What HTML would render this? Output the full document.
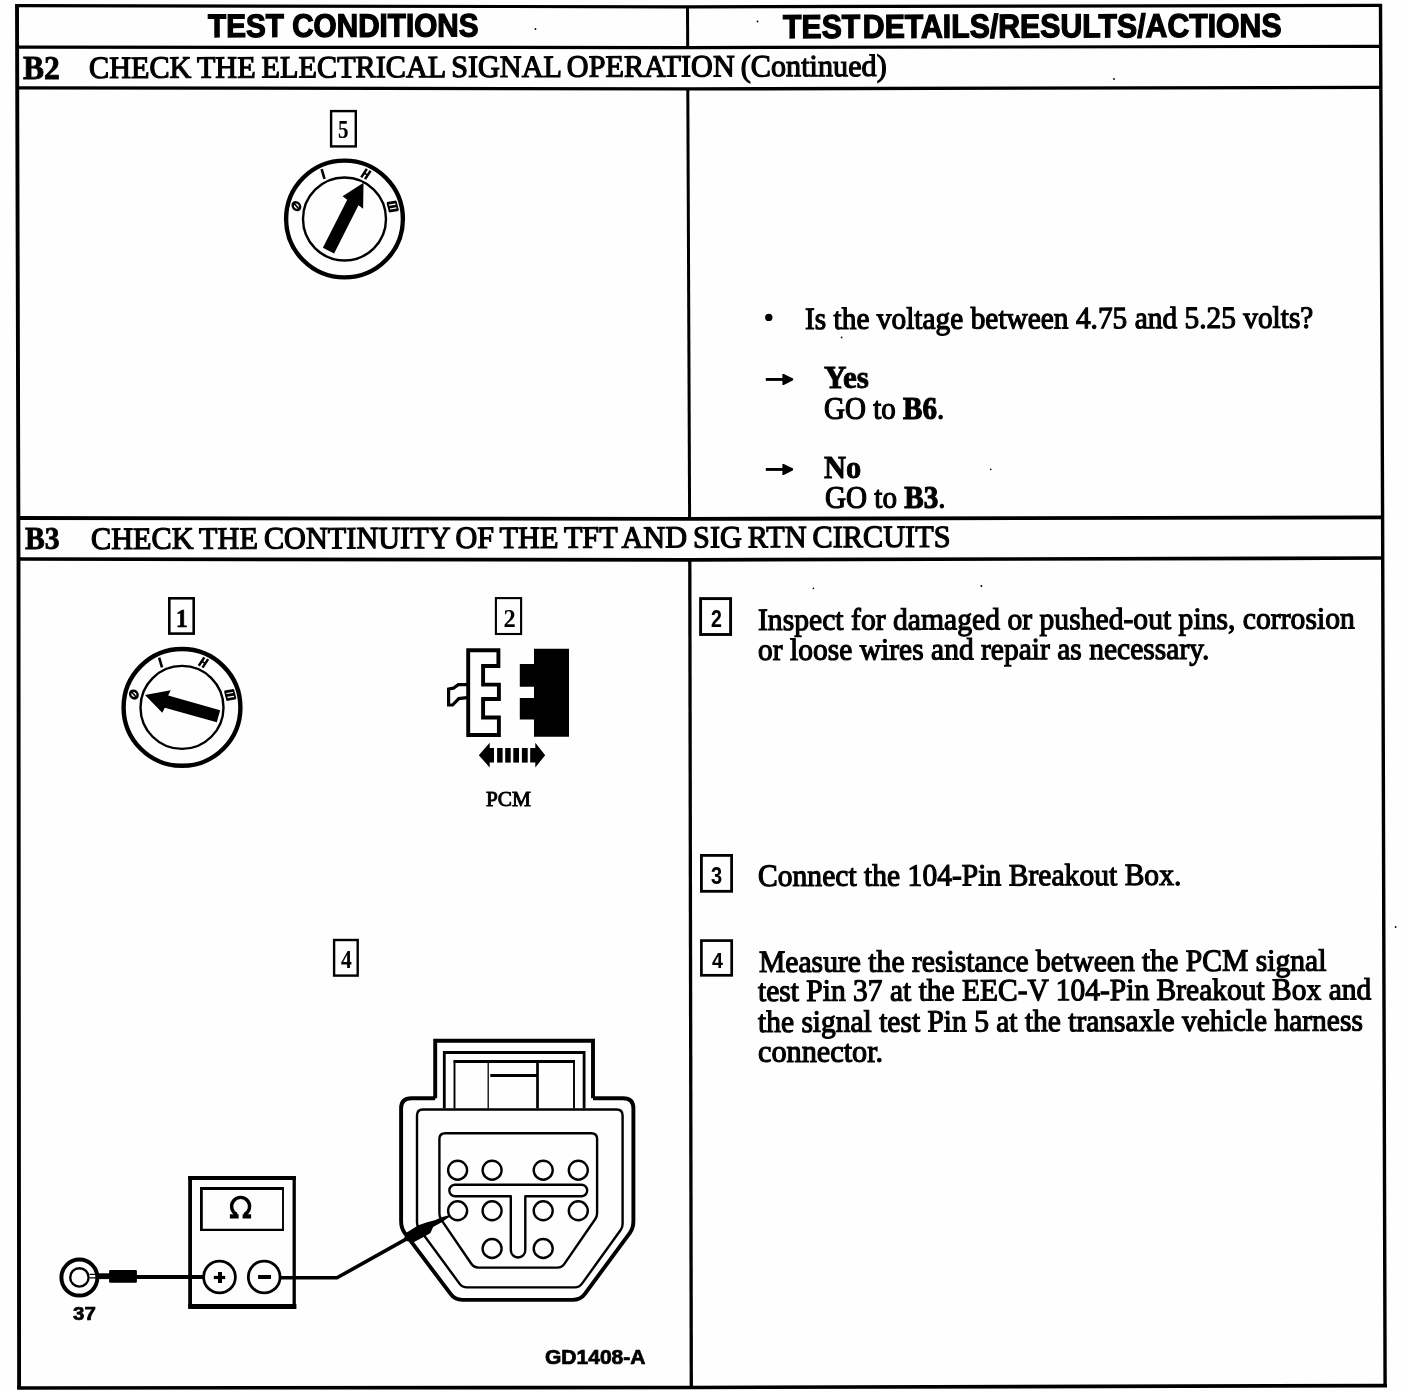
<!DOCTYPE html>
<html><head><meta charset="utf-8"><title>B2/B3 pinpoint test</title>
<style>
html,body{margin:0;padding:0;background:#fff;}
#page{position:relative;width:1408px;height:1392px;overflow:hidden;background:#fefefe;color:#000;}
#page svg{position:absolute;left:0;top:0;}
.t{position:absolute;white-space:pre;line-height:1;transform-origin:0 84%;color:#000;}
#txt{position:absolute;left:0;top:0;width:1408px;height:1392px;transform:translateZ(0);will-change:transform;}
</style></head><body>
<div id="page">
<svg width="1408" height="1392" viewBox="0 0 1408 1392" fill="none" stroke="#000" stroke-linecap="butt" stroke-linejoin="miter">
<polyline points="17.0,4.0 18.5,560.0 19.1,1389.0" stroke-width="3.9"/>
<polyline points="1380.5,4.0 1382.6,520.0 1385.1,1387.0" stroke-width="3.4"/>
<polyline points="687.5,6.0 687.7,47.5" stroke-width="3.0"/>
<polyline points="687.8,89.0 689.6,518.0" stroke-width="3.0"/>
<polyline points="689.8,560.0 691.3,1388.0" stroke-width="3.3"/>
<polyline points="15.1,5.6 688.0,6.8 1382.0,5.4" stroke-width="3.2"/>
<polyline points="17.0,47.1 688.0,47.6 1381.0,46.3" stroke-width="3.2"/>
<polyline points="17.0,87.8 688.0,88.9 1381.0,87.4" stroke-width="3.3"/>
<polyline points="17.0,518.0 689.0,518.9 1383.0,517.3" stroke-width="3.8"/>
<polyline points="17.0,559.0 690.0,559.9 1383.0,558.0" stroke-width="3.7"/>
<polyline points="17.2,1388.0 691.0,1387.5 1387.0,1385.6" stroke-width="3.6"/>
<rect x="331.1" y="111.1" width="24.7" height="35.3" stroke-width="2.4"/>
<rect x="169.3" y="598.3" width="24.4" height="35.3" stroke-width="2.6"/>
<rect x="495.9" y="598.1" width="25.2" height="35.9" stroke-width="2.1"/>
<rect x="334.1" y="940.0" width="23.6" height="35.6" stroke-width="2.4"/>
<rect x="700.6" y="598.6" width="30.0" height="35.9" stroke-width="2.9"/>
<rect x="701.4" y="855.4" width="30.2" height="35.9" stroke-width="2.8"/>
<rect x="701.4" y="940.6" width="30.3" height="34.7" stroke-width="2.7"/>
<g transform="translate(344.5,219)">
<circle r="58.4" stroke-width="4.4"/>
<circle r="41.5" stroke-width="2.4"/>
<g transform="rotate(26.8) translate(0.0,0.0)"><polygon fill="#000" stroke="none" points="-6.3,35.5 6.3,35.5 6.3,-18.5 12,-17.5 0.6,-41 -12,-19.5 -6.3,-18.5"/></g>
<g transform="rotate(-75) translate(0,-49.8)" stroke-width="1.7"><ellipse rx="3.6" ry="3.9" transform="skewX(-8)" stroke-width="2.5"/><path d="M-2,3 L2,-3" stroke-width="1.6"/></g>
<g transform="rotate(-25.5) translate(0,-49.8)" stroke-width="1.7"><path d="M0.8,-5 L-0.8,5" stroke-width="2.6"/></g>
<g transform="rotate(25.5) translate(0,-49.8)" stroke-width="1.7"><path d="M-1.4,-5 L-2.8,5 M2.8,-5 L1.4,5" stroke-width="2.5"/><path d="M-2.6,0 L2.6,0" stroke-width="1.6"/></g>
<g transform="rotate(75.5) translate(0,-49.8)" stroke-width="1.7"><path d="M-3.6,-4.6 L-4.4,4.6 M0.4,-4.6 L-0.4,4.6 M4.4,-4.6 L3.6,4.6" stroke-width="2.7"/><path d="M-4.5,-4.2 L4.8,-4.2 M-4.8,4.2 L4.5,4.2" stroke-width="1.8"/></g>
</g>
<g transform="translate(182,707.4)">
<circle r="58.4" stroke-width="4.4"/>
<circle r="41.5" stroke-width="2.4"/>
<g transform="rotate(-74.3) translate(1.4,2.0)"><polygon fill="#000" stroke="none" points="-6.3,35.5 6.3,35.5 6.3,-18.5 12,-17.5 0.6,-41 -12,-19.5 -6.3,-18.5"/></g>
<g transform="rotate(-75) translate(0,-49.8)" stroke-width="1.7"><ellipse rx="3.6" ry="3.9" transform="skewX(-8)" stroke-width="2.5"/><path d="M-2,3 L2,-3" stroke-width="1.6"/></g>
<g transform="rotate(-25.5) translate(0,-49.8)" stroke-width="1.7"><path d="M0.8,-5 L-0.8,5" stroke-width="2.6"/></g>
<g transform="rotate(25.5) translate(0,-49.8)" stroke-width="1.7"><path d="M-1.4,-5 L-2.8,5 M2.8,-5 L1.4,5" stroke-width="2.5"/><path d="M-2.6,0 L2.6,0" stroke-width="1.6"/></g>
<g transform="rotate(75.5) translate(0,-49.8)" stroke-width="1.7"><path d="M-3.6,-4.6 L-4.4,4.6 M0.4,-4.6 L-0.4,4.6 M4.4,-4.6 L3.6,4.6" stroke-width="2.7"/><path d="M-4.5,-4.2 L4.8,-4.2 M-4.8,4.2 L4.5,4.2" stroke-width="1.8"/></g>
</g>
<polygon points="468.2,650.3 498.4,650.3 498.4,666.0 483.1,666.0 483.1,684.6 498.9,684.6 498.9,699.0 483.1,699.0 483.1,717.5 498.9,717.5 498.9,735.0 468.2,735.0" stroke-width="3.9"/>
<path d="M467,684.6 L458.3,684.6 L453.4,688.2 L448.6,689.0 L448.6,705.0 L452.6,705.0 L458.8,698.6 L467,697.6" stroke-width="3.2"/>
<path fill="#000" stroke="none" d="M534,648.8 H569 V736.7 H534 V719.5 H519.8 V697.9 H534 V686.7 H519.8 V664 H534 Z"/>
<path fill="#000" stroke="none" d="M478.8,755.3 L489.7,742.8 L489.7,748 L494,748 L494,762.6 L489.7,762.6 L489.7,767.4 Z"/>
<rect fill="#000" stroke="none" x="497.1" y="748" width="5.5" height="14.6"/>
<rect fill="#000" stroke="none" x="505.2" y="748" width="5.5" height="14.6"/>
<rect fill="#000" stroke="none" x="513.3" y="748" width="5.7" height="14.6"/>
<rect fill="#000" stroke="none" x="521.9" y="748" width="5.8" height="14.6"/>
<path fill="#000" stroke="none" d="M545.2,755.3 L535.3,742.8 L535.3,748 L530.2,748 L530.2,762.6 L535.3,762.6 L535.3,767.4 Z"/>
<path d="M190.1,1176.1 V1308" stroke-width="3.8"/><path d="M188.2,1178.1 H295.9" stroke-width="4.0"/><path d="M294.2,1176.1 V1308" stroke-width="3.3"/>
<path d="M188.3,1306.5 H296.4" stroke-width="5.0"/>
<path d="M201.4,1188.4 H283.0" stroke-width="3.0"/><path d="M201.4,1187 V1231" stroke-width="2.8"/><path d="M283.0,1187 V1231" stroke-width="1.9"/><path d="M200,1229.9 H284" stroke-width="2.1"/>
<path d="M236.9,1214.6 A9.0,9.0 0 1 1 244.3,1214.6" stroke-width="3.4"/><path d="M229.9,1216.4 H238.6 M242.6,1216.4 H251.1" stroke-width="4.4"/>
<circle cx="219.5" cy="1277.0" r="15.9" stroke-width="2.8"/>
<circle cx="264.2" cy="1277.0" r="15.9" stroke-width="2.8"/>
<path d="M213.8,1277.5 H225.2" stroke-width="3.2"/><path d="M220,1272 V1283" stroke-width="4.0"/>
<path d="M258.1,1277 H271" stroke-width="4.0"/>
<circle cx="79.4" cy="1277.6" r="18.0" stroke-width="4.0"/>
<circle cx="79.4" cy="1277.4" r="9.2" stroke-width="2.4"/>
<path d="M89.5,1274.4 H99 M89.5,1277.9 H99" stroke-width="1.3"/>
<rect fill="#000" stroke="none" x="98.5" y="1273.3" width="11.5" height="5.8"/>
<rect fill="#000" stroke="none" x="109.1" y="1269.9" width="27.8" height="12.8" rx="1"/>
<path d="M136,1277.0 H203.8" stroke-width="4.0"/>
<path d="M279.9,1277.8 H337 L407,1238.6" stroke-width="3.6" stroke-linejoin="round"/>
<path fill="#000" stroke="none" d="M404.2,1238.3 L405.9,1233.1 L418.4,1225.3 L427.1,1222.3 L434.8,1220.2 L441.7,1217.2 L448.6,1215.2 L449.6,1216.7 L441.7,1222.3 L433.1,1227.1 L430.5,1233.1 L424.5,1236.6 L414.1,1241.9 L407.2,1241.2 Z"/>
<path d="M435.2,1098.2 V1040.8 H593.0 V1098.2" stroke-width="3.9"/>
<path d="M444.3,1108.4 V1052.5 H584.1 V1108.4" stroke-width="2.8"/>
<path d="M454.5,1108.4 V1061 H574 V1108.4" stroke-width="1.9"/>
<path d="M453.6,1061.6 H574.9" stroke-width="2.8"/>
<path d="M488.2,1061 V1108.4" stroke-width="1.3"/>
<path d="M537.5,1061 V1108.4" stroke-width="2.7"/>
<path d="M490.3,1075.5 H537.5" stroke-width="2.9"/>
<path d="M435.2,1098.2 H411.5 Q401.1,1098.2 401.1,1108.4 V1221 Q401.1,1228 404.6,1232.8 L450.0,1293.2 Q454.6,1299.9 462.5,1299.9 H572.5 Q580.6,1299.9 584.9,1293.9 L629.9,1232.8 Q633.4,1228 633.4,1221 V1108.4 Q633.4,1098.2 623.1,1098.2 H593.0" stroke-width="3.9"/>
<path d="M422.8,1109.5 H616.6 Q622.6,1109.5 622.6,1115.5 V1224 Q622.6,1227.2 620.8,1229.8 L582.2,1283.4 Q579.4,1287.4 574.5,1287.4 H467.2 Q462.3,1287.4 459.5,1283.6 L418.8,1228.2 Q417,1225.8 417,1222.5 V1115.5 Q417,1109.5 422.8,1109.5 Z" stroke-width="2.4"/>
<path d="M445.2,1133.2 H591.3 Q597.1,1133.2 597.1,1139 V1213 Q597.1,1216.4 595.3,1219 L564.2,1264.1 Q561.8,1267.6 557.2,1267.6 H478.5 Q473.9,1267.6 471.5,1264 L441.2,1219.6 Q439.4,1216.9 439.4,1213.5 V1139 Q439.4,1133.2 445.2,1133.2 Z" stroke-width="2.4"/>
<circle cx="457.6" cy="1170.2" r="9.5" stroke-width="2.4"/>
<circle cx="492.1" cy="1170.2" r="9.5" stroke-width="2.4"/>
<circle cx="543.2" cy="1170.2" r="9.5" stroke-width="2.4"/>
<circle cx="578.3" cy="1170.2" r="9.5" stroke-width="2.4"/>
<circle cx="457.6" cy="1210.8" r="9.5" stroke-width="2.4"/>
<circle cx="492.1" cy="1210.8" r="9.5" stroke-width="2.4"/>
<circle cx="543.2" cy="1210.8" r="9.5" stroke-width="2.4"/>
<circle cx="578.3" cy="1210.8" r="9.5" stroke-width="2.4"/>
<circle cx="492.1" cy="1248.5" r="9.5" stroke-width="2.4"/>
<circle cx="543.2" cy="1248.5" r="9.5" stroke-width="2.4"/>
<path d="M455.1,1184.7 H581.4 A5.8,5.8 0 0 1 581.4,1196.3 H525.3 V1250.2 A7.25,7.25 0 0 1 510.8,1250.2 V1196.3 H455.1 A5.8,5.8 0 0 1 455.1,1184.7 Z" stroke-width="2.4" stroke-linejoin="round"/>
<circle cx="768.8" cy="317.4" r="3.7" fill="#000" stroke="none"/>
<circle cx="535.5" cy="29" r="0.9" fill="#000" stroke="none"/><circle cx="757.5" cy="21.5" r="0.9" fill="#000" stroke="none"/><circle cx="1114" cy="79" r="0.9" fill="#000" stroke="none"/><circle cx="841.6" cy="337.4" r="0.9" fill="#000" stroke="none"/><circle cx="990.8" cy="469.4" r="0.8" fill="#000" stroke="none"/><circle cx="813.4" cy="588.4" r="0.8" fill="#000" stroke="none"/><circle cx="981.4" cy="586" r="1.0" fill="#000" stroke="none"/><circle cx="1395.6" cy="927" r="0.9" fill="#000" stroke="none"/>
<path d="M765.8,379.45 H784.8" stroke-width="2.9"/><path fill="#000" stroke="none" d="M793.0999999999999,378.55 L793.0999999999999,380.34999999999997 L786.3,383.65 L783.8,384.95 L782.4,384.95 L782.4,373.95 L783.8,373.95 L786.3,375.25 Z"/>
<path d="M765.8,469.45 H784.8" stroke-width="2.9"/><path fill="#000" stroke="none" d="M793.0999999999999,468.55 L793.0999999999999,470.34999999999997 L786.3,473.65 L783.8,474.95 L782.4,474.95 L782.4,463.95 L783.8,463.95 L786.3,465.25 Z"/>
</svg>
<div id="txt">
<span class="t" style="left:207.7px;top:9.89px;font-family:'Liberation Sans', sans-serif;font-weight:bold;font-size:32.5px;-webkit-text-stroke:1.30px #000;transform:rotate(-0.14deg) scaleX(0.9138);">TEST CONDITIONS</span>
<span class="t" style="left:782.6px;top:10.27px;font-family:'Liberation Sans', sans-serif;font-weight:bold;font-size:33px;-webkit-text-stroke:1.30px #000;transform:rotate(-0.14deg) scaleX(0.9162);">TEST&#8202;DETAILS/RESULTS/ACTIONS</span>
<span class="t" style="left:23.4px;top:50.64px;font-family:'Liberation Serif', serif;font-weight:bold;font-size:33.5px;-webkit-text-stroke:0.85px #000;transform:scaleX(0.9410);">B2</span>
<span class="t" style="left:89.3px;top:52.44px;font-family:'Liberation Serif', serif;font-weight:normal;font-size:31px;-webkit-text-stroke:1.15px #000;word-spacing:-1.6px;transform:rotate(-0.14deg) scaleX(0.9749);">CHECK THE ELECTRICAL SIGNAL OPERATION (Continued)</span>
<span class="t" style="left:25.4px;top:522.30px;font-family:'Liberation Serif', serif;font-weight:bold;font-size:32px;-webkit-text-stroke:0.85px #000;transform:scaleX(0.9265);">B3</span>
<span class="t" style="left:91.0px;top:523.04px;font-family:'Liberation Serif', serif;font-weight:normal;font-size:31px;-webkit-text-stroke:1.15px #000;word-spacing:-1.6px;transform:rotate(-0.14deg) scaleX(0.9765);">CHECK THE CONTINUITY OF THE TFT AND SIG RTN CIRCUITS</span>
<span class="t" style="left:805.0px;top:302.54px;font-family:'Liberation Serif', serif;font-weight:normal;font-size:31px;-webkit-text-stroke:1.15px #000;transform:rotate(-0.14deg) scaleX(0.9479);">Is the voltage between 4.75 and 5.25 volts?</span>
<span class="t" style="left:824.2px;top:362.12px;font-family:'Liberation Serif', serif;font-weight:bold;font-size:31.5px;-webkit-text-stroke:0.85px #000;transform:scaleX(0.9868);">Yes</span>
<span class="t" style="left:824.0px;top:392.64px;font-family:'Liberation Serif', serif;font-weight:normal;font-size:31px;-webkit-text-stroke:1.15px #000;transform:scaleX(0.9367);">GO to <b>B6</b>.</span>
<span class="t" style="left:824.2px;top:452.12px;font-family:'Liberation Serif', serif;font-weight:bold;font-size:31.5px;-webkit-text-stroke:0.85px #000;transform:scaleX(0.9662);">No</span>
<span class="t" style="left:824.6px;top:482.44px;font-family:'Liberation Serif', serif;font-weight:normal;font-size:31px;-webkit-text-stroke:1.15px #000;transform:scaleX(0.9398);">GO to <b>B3</b>.</span>
<span class="t" style="left:757.9px;top:603.54px;font-family:'Liberation Serif', serif;font-weight:normal;font-size:31px;-webkit-text-stroke:1.15px #000;transform:rotate(-0.14deg) scaleX(0.9562);">Inspect for damaged or pushed-out pins, corrosion</span>
<span class="t" style="left:757.5px;top:633.64px;font-family:'Liberation Serif', serif;font-weight:normal;font-size:31px;-webkit-text-stroke:1.15px #000;transform:rotate(-0.14deg) scaleX(0.9525);">or loose wires and repair as necessary.</span>
<span class="t" style="left:757.9px;top:860.34px;font-family:'Liberation Serif', serif;font-weight:normal;font-size:31px;-webkit-text-stroke:1.15px #000;transform:rotate(-0.14deg) scaleX(0.9548);">Connect the 104-Pin Breakout Box.</span>
<span class="t" style="left:758.7px;top:945.74px;font-family:'Liberation Serif', serif;font-weight:normal;font-size:31px;-webkit-text-stroke:1.15px #000;transform:rotate(-0.14deg) scaleX(0.9552);">Measure the resistance between the PCM signal</span>
<span class="t" style="left:758.0px;top:975.34px;font-family:'Liberation Serif', serif;font-weight:normal;font-size:31px;-webkit-text-stroke:1.15px #000;transform:rotate(-0.14deg) scaleX(0.9518);">test Pin 37 at the EEC-V 104-Pin Breakout Box and</span>
<span class="t" style="left:758.0px;top:1005.64px;font-family:'Liberation Serif', serif;font-weight:normal;font-size:31px;-webkit-text-stroke:1.15px #000;transform:rotate(-0.14deg) scaleX(0.9508);">the signal test Pin 5 at the transaxle vehicle harness</span>
<span class="t" style="left:758.0px;top:1035.84px;font-family:'Liberation Serif', serif;font-weight:normal;font-size:31px;-webkit-text-stroke:1.15px #000;transform:scaleX(0.9761);">connector.</span>
<span class="t" style="left:486.3px;top:788.99px;font-family:'Liberation Serif', serif;font-weight:normal;font-size:21.5px;-webkit-text-stroke:0.95px #000;transform:scaleX(0.9863);">PCM</span>
<span class="t" style="left:73.1px;top:1303.92px;font-family:'Liberation Sans', sans-serif;font-weight:bold;font-size:19px;-webkit-text-stroke:0.70px #000;transform:scaleX(1.0785);">37</span>
<span class="t" style="left:544.9px;top:1348.24px;font-family:'Liberation Sans', sans-serif;font-weight:bold;font-size:19.8px;-webkit-text-stroke:0.73px #000;transform:scaleX(1.0628);">GD1408-A</span>
<span class="t" style="left:338.4px;top:118.48px;font-family:'Liberation Serif', serif;font-weight:bold;font-size:24.5px;-webkit-text-stroke:0.10px #000;transform:scaleX(0.8600);">5</span>
<span class="t" style="left:175.6px;top:606.68px;font-family:'Liberation Serif', serif;font-weight:bold;font-size:24.5px;-webkit-text-stroke:0.68px #000;transform:scaleX(0.9500);">1</span>
<span class="t" style="left:503.4px;top:606.68px;font-family:'Liberation Serif', serif;font-weight:bold;font-size:24.5px;-webkit-text-stroke:0.00px #000;">2</span>
<span class="t" style="left:340.8px;top:948.48px;font-family:'Liberation Serif', serif;font-weight:bold;font-size:24.5px;-webkit-text-stroke:0.10px #000;transform:scaleX(0.8800);">4</span>
<span class="t" style="left:711.2px;top:607.73px;font-family:'Liberation Sans', sans-serif;font-weight:bold;font-size:23px;-webkit-text-stroke:0.09px #000;transform:scaleX(0.8500);">2</span>
<span class="t" style="left:711.3px;top:865.11px;font-family:'Liberation Sans', sans-serif;font-weight:bold;font-size:23.5px;-webkit-text-stroke:0.09px #000;transform:scaleX(0.8500);">3</span>
<span class="t" style="left:711.9px;top:950.15px;font-family:'Liberation Sans', sans-serif;font-weight:bold;font-size:22.5px;-webkit-text-stroke:0.09px #000;transform:scaleX(0.8700);">4</span>
</div>
</div>
</body></html>
